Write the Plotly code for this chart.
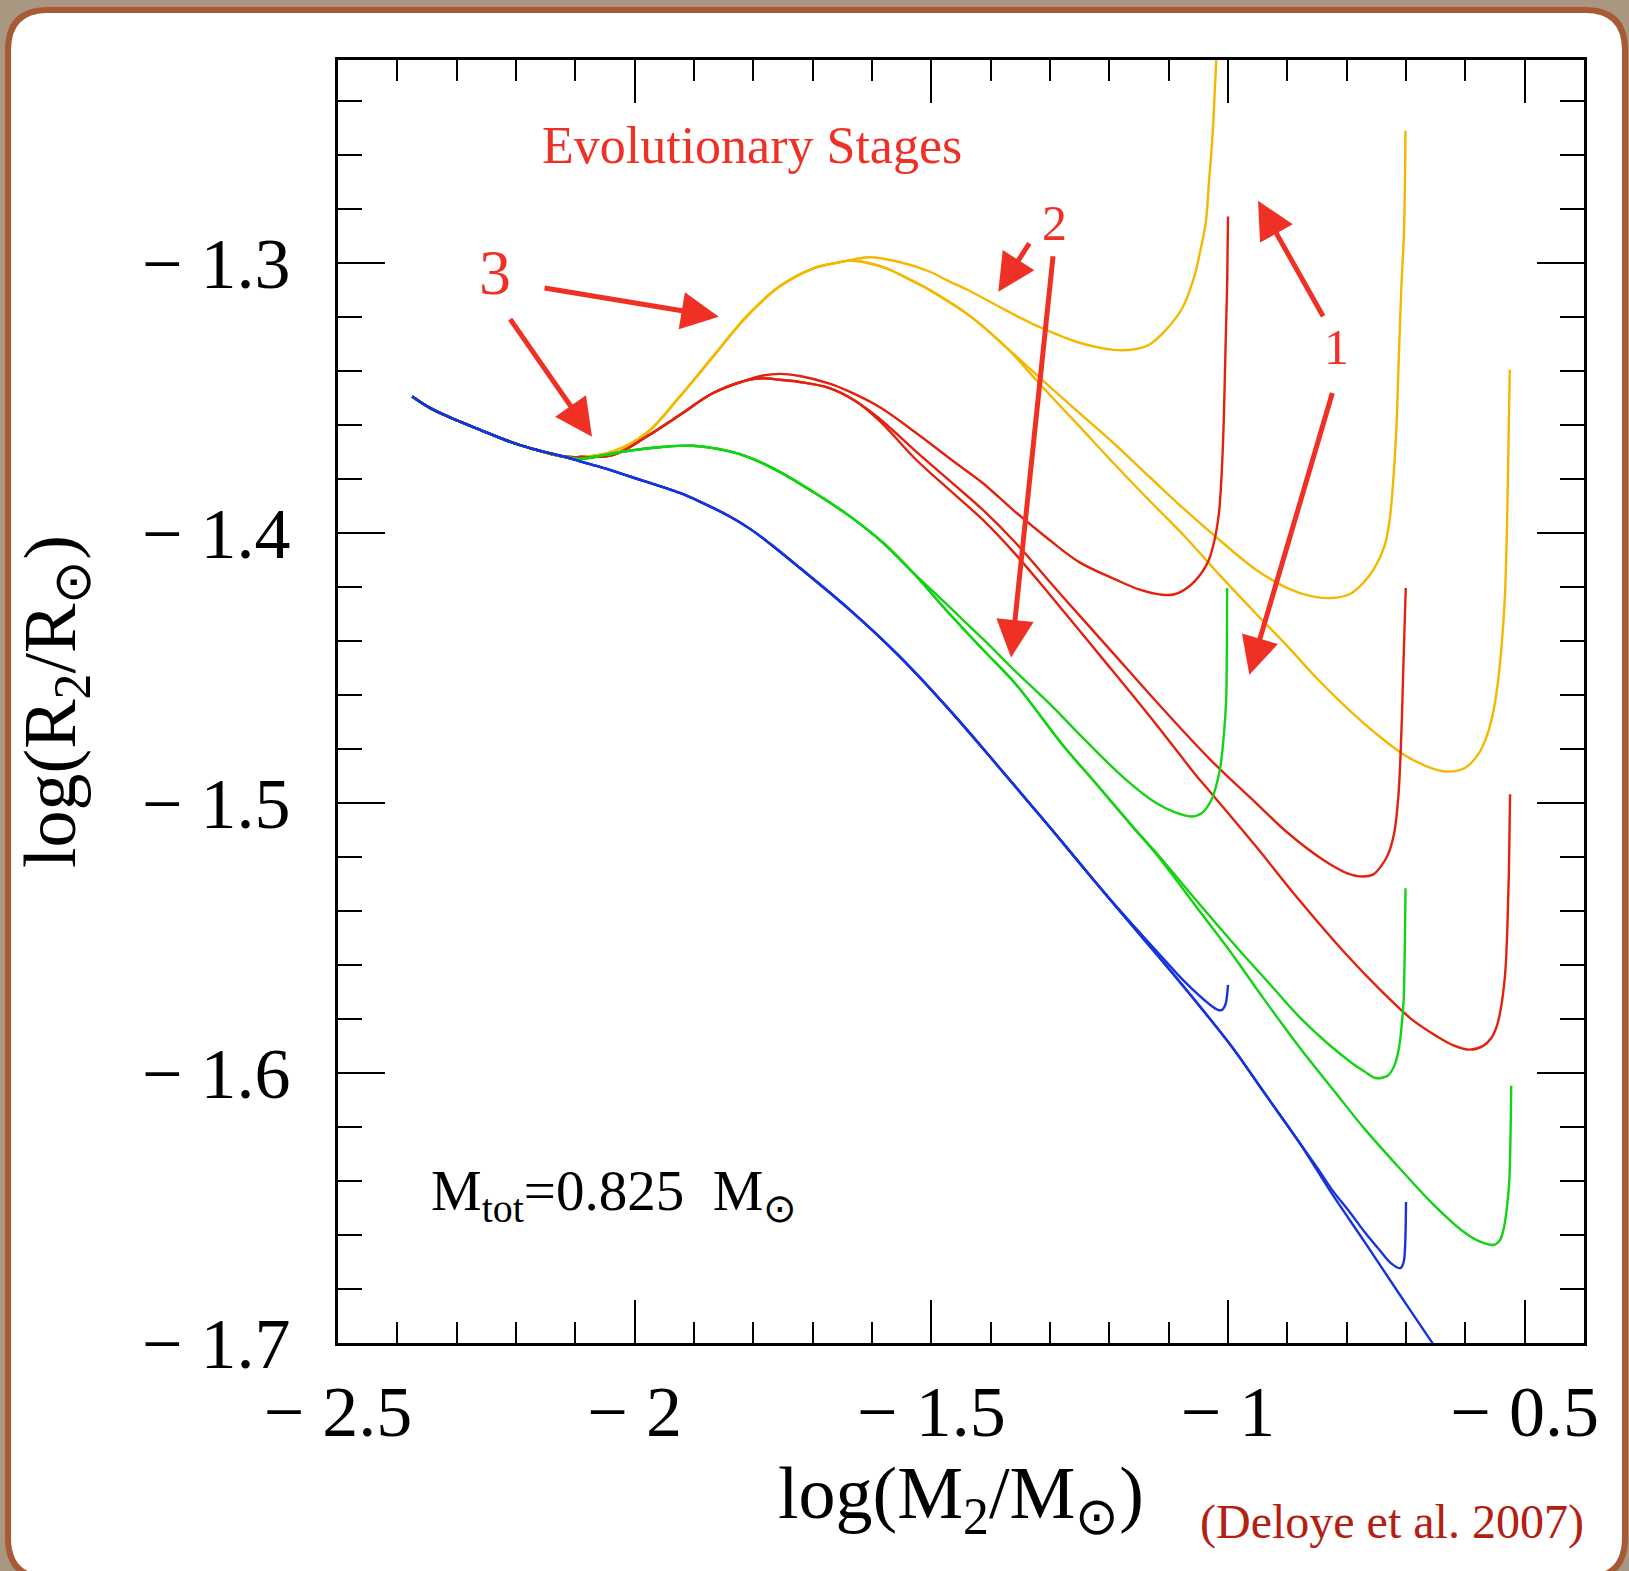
import plotly.graph_objects as go

# ---------------- data ----------------
common_x = [-2.375, -2.3445, -2.3085, -2.2604, -2.2200, -2.1763, -2.1202]
common_y = [-1.3496, -1.3539, -1.3576, -1.3619, -1.3655, -1.3687, -1.3718]

# yellow tracks
yel_rise_x = [-2.092, -2.0361, -1.9799, -1.9239, -1.8678, -1.8116, -1.7556, -1.6996, -1.6600]
yel_rise_y = [-1.3720, -1.3699, -1.3631, -1.3496, -1.3348, -1.3200, -1.3088, -1.3022, -1.3001]
yel1_x = [-1.6300, -1.6042, -1.5537, -1.5032, -1.4751, -1.4335, -1.3733, -1.3133, -1.2532, -1.1931, -1.160,
          -1.133, -1.105, -1.077, -1.058, -1.047, -1.0376, -1.0320, -1.0265, -1.0230, -1.0198, -1.0175]
yel1_y = [-1.2988, -1.2980, -1.2998, -1.3033, -1.3064, -1.3107, -1.3178, -1.3243, -1.3295, -1.3323, -1.3322,
          -1.3304, -1.3250, -1.3168, -1.3060, -1.2960, -1.2854, -1.2700, -1.2545, -1.2400, -1.2252, -1.2100]
yel_mid_x = [-1.6323, -1.5800, -1.5370, -1.5032, -1.4335, -1.3733]
yel_mid_y = [-1.2993, -1.3018, -1.3062, -1.3101, -1.3200, -1.3315]
yel2_x = [-1.3133, -1.2532, -1.1931, -1.1330, -1.0729, -1.0128, -0.9527, -0.90, -0.8600, -0.8265, -0.7950,
          -0.7724, -0.7530, -0.7364, -0.7280, -0.7214, -0.7160, -0.7124, -0.7080, -0.7033, -0.7009]
yel2_y = [-1.3434, -1.3552, -1.3668, -1.3792, -1.3915, -1.4030, -1.4137, -1.4205, -1.4235, -1.4242, -1.4228,
          -1.4187, -1.4130, -1.4051, -1.3960, -1.3804, -1.3600, -1.3372, -1.3100, -1.2879, -1.2512]
yel3_x = [-1.3133, -1.2532, -1.1931, -1.1330, -1.0729, -1.0128, -0.9527, -0.9000, -0.8500, -0.8025, -0.7500,
          -0.7048, -0.6650, -0.6335, -0.6000, -0.5770, -0.5650, -0.5545, -0.5460, -0.5395, -0.5336, -0.5300,
          -0.5275, -0.5251]
yel3_y = [-1.3459, -1.3600, -1.3742, -1.3880, -1.4014, -1.4160, -1.4300, -1.4420, -1.4540, -1.4643, -1.4745,
          -1.4820, -1.4865, -1.4884, -1.4870, -1.4816, -1.4760, -1.4680, -1.4570, -1.4434, -1.4249, -1.4000,
          -1.3700, -1.3397]

# red tracks
red_rise_x = [-2.092, -2.0361, -1.9799, -1.9239, -1.8678, -1.8116]
red_rise_y = [-1.3720, -1.3712, -1.3644, -1.3564, -1.3483, -1.3436]
red1_x = [-1.7837, -1.7556, -1.7219, -1.6715, -1.6378, -1.5873, -1.5256, -1.4600, -1.4135, -1.3600, -1.3013,
          -1.2500, -1.1890, -1.1500, -1.1106, -1.0900, -1.0657, -1.0450, -1.0321, -1.0220, -1.0152, -1.0100,
          -1.0068, -1.0040, -1.0013, -1.0000]
red1_y = [-1.3418, -1.3412, -1.3420, -1.3448, -1.3478, -1.3535, -1.3631, -1.3740, -1.3816, -1.3920, -1.4026,
          -1.4110, -1.4174, -1.4210, -1.4230, -1.4228, -1.4199, -1.4150, -1.4100, -1.4020, -1.3927, -1.3750,
          -1.3557, -1.3300, -1.3064, -1.2829]
red_mid_x = [-1.7837, -1.7556, -1.7219, -1.6715, -1.6300]
red_mid_y = [-1.3428, -1.3434, -1.3442, -1.3465, -1.3510]
red2_x = [-1.5873, -1.5256, -1.4600, -1.4135, -1.3573, -1.2833, -1.2000, -1.1210, -1.0300, -0.9527, -0.9000,
          -0.8399, -0.8000, -0.7724, -0.7550, -0.7424, -0.7300, -0.7199, -0.7130, -0.7078, -0.7045, -0.7004]
red2_y = [-1.3578, -1.3700, -1.3825, -1.3915, -1.4039, -1.4225, -1.4430, -1.4625, -1.4840, -1.5001, -1.5110,
          -1.5211, -1.5260, -1.5273, -1.5265, -1.5236, -1.5190, -1.5112, -1.4980, -1.4742, -1.4500, -1.4205]
red3_x = [-1.5873, -1.5256, -1.4600, -1.4135, -1.3573, -1.3058, -1.2100, -1.1210, -1.0544, -1.0300, -0.9527,
          -0.8800, -0.8025, -0.7400, -0.6898, -0.6500, -0.6200, -0.5922, -0.5700, -0.5560, -0.5471, -0.5400,
          -0.5350, -0.5320, -0.5290, -0.5265, -0.5246]
red3_y = [-1.3586, -1.3730, -1.3860, -1.3952, -1.4082, -1.4215, -1.4470, -1.4710, -1.4897, -1.4960, -1.5162,
          -1.5360, -1.5557, -1.5700, -1.5803, -1.5862, -1.5898, -1.5914, -1.5900, -1.5870, -1.5828, -1.5760,
          -1.5680, -1.5606, -1.5450, -1.5250, -1.4968]

# green tracks
grn_x = [-2.092, -2.050, -2.008, -1.955, -1.9015, -1.8397, -1.8061, -1.7556, -1.7000, -1.6400, -1.5800, -1.5300]
grn_y = [-1.3727, -1.3712, -1.3696, -1.3683, -1.3678, -1.3699, -1.3722, -1.3775, -1.3848, -1.3935, -1.4040,
         -1.4150]
grn1_x = [-1.4860, -1.4695, -1.4100, -1.3573, -1.3000, -1.2400, -1.1722, -1.1210, -1.0900, -1.0617, -1.0450,
          -1.0278, -1.0180, -1.0128, -1.0070, -1.0031, -1.0020, -1.0016, -1.0014]
grn1_y = [-1.4240, -1.4275, -1.4400, -1.4515, -1.4635, -1.4770, -1.4914, -1.5001, -1.5035, -1.5051, -1.5040,
          -1.4989, -1.4920, -1.4866, -1.4750, -1.4619, -1.4450, -1.4249, -1.4205]
grn_low_x = [-1.4695, -1.4100, -1.3573, -1.2772, -1.2284, -1.1600]
grn_low_y = [-1.4300, -1.4440, -1.4562, -1.4790, -1.4914, -1.5090]
grn2_x = [-1.1210, -1.0500, -0.9816, -0.9300, -0.8806, -0.8300, -0.7909, -0.7700, -0.7516, -0.7400, -0.7292,
          -0.7200, -0.7124, -0.7080, -0.7040, -0.7026, -0.7015, -0.7008]
grn2_y = [-1.5185, -1.5370, -1.5544, -1.5670, -1.5791, -1.5895, -1.5964, -1.5995, -1.6019, -1.6018, -1.6007,
          -1.5975, -1.5914, -1.5840, -1.5730, -1.5606, -1.5450, -1.5316]
grn3_x = [-1.1210, -1.0500, -0.9984, -0.9400, -0.8806, -0.8200, -0.7684, -0.7100, -0.6563, -0.6001, -0.5750,
          -0.5525, -0.5420, -0.5357, -0.5300, -0.5261, -0.5240, -0.5227]
grn3_y = [-1.5190, -1.5395, -1.5544, -1.5725, -1.5902, -1.6070, -1.6211, -1.6355, -1.6482, -1.6593, -1.6625,
          -1.6637, -1.6620, -1.6581, -1.6500, -1.6407, -1.6250, -1.6048]

# blue tracks
blu_x = [-2.092, -2.050, -2.008, -1.9239, -1.8902, -1.8397, -1.8061, -1.7724, -1.7219, -1.6378, -1.5537,
         -1.4695, -1.3854, -1.3013, -1.2172]
blu_y = [-1.3736, -1.3762, -1.3792, -1.3853, -1.3885, -1.3940, -1.3985, -1.4040, -1.4130, -1.4285, -1.4458,
         -1.4656, -1.4870, -1.5088, -1.5310]
blu1_x = [-1.1499, -1.116, -1.0850, -1.0601, -1.0400, -1.0265, -1.0150, -1.0096, -1.0040, -1.0015, -1.0000]
blu1_y = [-1.5478, -1.5560, -1.5635, -1.5690, -1.5730, -1.5754, -1.5768, -1.5766, -1.5745, -1.5710, -1.5674]
blu_low_x = [-1.1499, -1.1246, -1.0600, -0.9929, -0.9400, -0.8806]
blu_low_y = [-1.5485, -1.5550, -1.5720, -1.5905, -1.6070, -1.6255]
blu2_x = [-0.8500, -0.8246, -0.7950, -0.7684, -0.7450, -0.7250, -0.7095, -0.7040, -0.7015, -0.7005, -0.7000]
blu2_y = [-1.6350, -1.6433, -1.6515, -1.6593, -1.6655, -1.6705, -1.6723, -1.6700, -1.6640, -1.6560, -1.6478]
blu3_x = [-0.8500, -0.8246, -0.7684, -0.7124, -0.6546, -0.6200]
blu3_y = [-1.6360, -1.6448, -1.6630, -1.6815, -1.7003, -1.7120]

x_tickvals = [-2.5, -2.0, -1.5, -1.0, -0.5]
x_ticktext = ["\u2212 2.5", "\u2212 2", "\u2212 1.5", "\u2212 1", "\u2212 0.5"]
y_tickvals = [-1.7, -1.6, -1.5, -1.4, -1.3]
y_ticktext = ["\u2212 1.7", "\u2212 1.6", "\u2212 1.5", "\u2212 1.4", "\u2212 1.3"]

# ---------------- styling ----------------
W, H = 1629, 1571
ML, MR, MT, MB = 338, 45, 60, 228
PW, PH = W - ML - MR, H - MT - MB

YELLOW = "#f4b800"
RED = "#e0220f"
GREEN = "#14d214"
BLUE = "#1634dc"
ARROW = "#ee3124"
FONT = "Liberation Serif"


def seg(*parts):
    xs, ys = [], []
    for px, py in parts:
        xs += list(px)
        ys += list(py)
    return xs, ys


curves = [
    (YELLOW, seg((common_x, common_y), (yel_rise_x, yel_rise_y), (yel1_x, yel1_y))),
    (YELLOW, seg((common_x, common_y), (yel_rise_x, yel_rise_y), (yel_mid_x, yel_mid_y), (yel2_x, yel2_y))),
    (YELLOW, seg((common_x, common_y), (yel_rise_x, yel_rise_y), (yel_mid_x, yel_mid_y), (yel3_x, yel3_y))),
    (RED, seg((common_x, common_y), (red_rise_x, red_rise_y), (red1_x, red1_y))),
    (RED, seg((common_x, common_y), (red_rise_x, red_rise_y), (red_mid_x, red_mid_y), (red2_x, red2_y))),
    (RED, seg((common_x, common_y), (red_rise_x, red_rise_y), (red_mid_x, red_mid_y), (red3_x, red3_y))),
    (GREEN, seg((common_x, common_y), (grn_x, grn_y), (grn1_x, grn1_y))),
    (GREEN, seg((common_x, common_y), (grn_x, grn_y), (grn_low_x, grn_low_y), (grn2_x, grn2_y))),
    (GREEN, seg((common_x, common_y), (grn_x, grn_y), (grn_low_x, grn_low_y), (grn3_x, grn3_y))),
    (BLUE, seg((common_x, common_y), (blu_x, blu_y), (blu1_x, blu1_y))),
    (BLUE, seg((common_x, common_y), (blu_x, blu_y), (blu_low_x, blu_low_y), (blu2_x, blu2_y))),
    (BLUE, seg((common_x, common_y), (blu_x, blu_y), (blu_low_x, blu_low_y), (blu3_x, blu3_y))),
]

fig = go.Figure()
for color, (xs, ys) in curves:
    fig.add_trace(go.Scatter(x=xs, y=ys, mode="lines",
                             line=dict(color=color, width=2.4, shape="spline", smoothing=1.0,
                                       simplify=False),
                             hoverinfo="skip", showlegend=False))


def px2paper(X, Y):
    return (X - ML) / PW, (H - MB - Y) / PH


# rounded white panel with brown border
x0, y0, x1, y1, r = 8, 10, 1625, 1578, 40
rx, ry = r / PW, r / PH
ax0, ay0 = px2paper(x0, y0)
ax1, ay1 = px2paper(x1, y1)
path = (f"M {ax0+rx},{ay0} L {ax1-rx},{ay0} Q {ax1},{ay0} {ax1},{ay0-ry} "
        f"L {ax1},{ay1+ry} Q {ax1},{ay1} {ax1-rx},{ay1} L {ax0+rx},{ay1} "
        f"Q {ax0},{ay1} {ax0},{ay1+ry} L {ax0},{ay0-ry} Q {ax0},{ay0} {ax0+rx},{ay0} Z")
fig.add_shape(type="path", path=path, xref="paper", yref="paper", layer="below",
              fillcolor="white", line=dict(color="#a65b36", width=6))

axis_common = dict(showgrid=False, zeroline=False, showline=True, linecolor="black", linewidth=3,
                   mirror="allticks", ticks="inside", tickcolor="black", tickwidth=2,
                   tickfont=dict(family=FONT, size=72, color="black"))

fig.update_xaxes(range=[-2.5, -0.4], tickmode="array", tickvals=x_tickvals, ticktext=x_ticktext,
                 ticklen=43, ticklabelstandoff=4,
                 minor=dict(tickmode="linear", tick0=-2.5, dtick=0.1, ticks="inside", ticklen=21,
                            tickwidth=2, tickcolor="black"),
                 title=dict(text="log(M<sub>2</sub>/M<sub>\u2299</sub>)",
                            font=dict(family=FONT, size=74, color="black"), standoff=14),
                 **axis_common)
fig.update_yaxes(range=[-1.7, -1.225], tickmode="array", tickvals=y_tickvals, ticktext=y_ticktext,
                 ticklen=47, ticklabelstandoff=30,
                 minor=dict(tickmode="linear", tick0=-1.7, dtick=0.02, ticks="inside", ticklen=24,
                            tickwidth=2, tickcolor="black"),
                 title=dict(text="log(R<sub>2</sub>/R<sub>\u2299</sub>)",
                            font=dict(family=FONT, size=74, color="black"), standoff=43),
                 **axis_common)

# arrows (tip x,y ; tail ax,ay) in data units
arrows = [
    (-1.8582, -1.3201, -2.1544, -1.3093),
    (-2.0719, -1.3645, -2.2116, -1.3204),
    (-1.3871, -1.3108, -1.3333, -1.2923),
    (-1.3656, -1.4462, -1.2946, -1.2971),
    (-0.9494, -1.2771, -0.8383, -1.3204),
    (-0.9640, -1.4526, -0.8234, -1.3477),
]
for tx, ty, sx, sy in arrows:
    fig.add_annotation(x=tx, y=ty, ax=sx, ay=sy, xref="x", yref="y", axref="x", ayref="y",
                       text="", showarrow=True, arrowhead=2, arrowsize=1.5, arrowwidth=5,
                       arrowcolor=ARROW, standoff=0, startstandoff=0)

labels = [
    ("Evolutionary Stages", -1.8027, -1.2568, 52),
    ("3", -2.2350, -1.3035, 64),
    ("2", -1.2926, -1.2853, 50),
    ("1", -0.8164, -1.3312, 50),
]
for txt, lx, ly, sz in labels:
    fig.add_annotation(x=lx, y=ly, xref="x", yref="y", text=txt, showarrow=False,
                       xanchor="center", yanchor="middle",
                       font=dict(family=FONT, size=sz, color=ARROW))

fig.add_annotation(x=-2.3462, y=-1.6451, xref="x", yref="y", xanchor="left", yanchor="middle",
                   text="M<sub>tot</sub>=0.825  M<sub>\u2299</sub>", showarrow=False,
                   font=dict(family=FONT, size=57, color="black"))

dx, dy = px2paper(1392, 1522)
fig.add_annotation(x=dx, y=dy, xref="paper", yref="paper", xanchor="center", yanchor="middle",
                   text="(Deloye et al. 2007)", showarrow=False,
                   font=dict(family=FONT, size=48, color="#b3200f"))

fig.update_layout(width=W, height=H, margin=dict(l=ML, r=MR, t=MT, b=MB, pad=0),
                  paper_bgcolor="#aa9782", plot_bgcolor="rgba(0,0,0,0)",
                  showlegend=False)

fig.write_html("out.html")
